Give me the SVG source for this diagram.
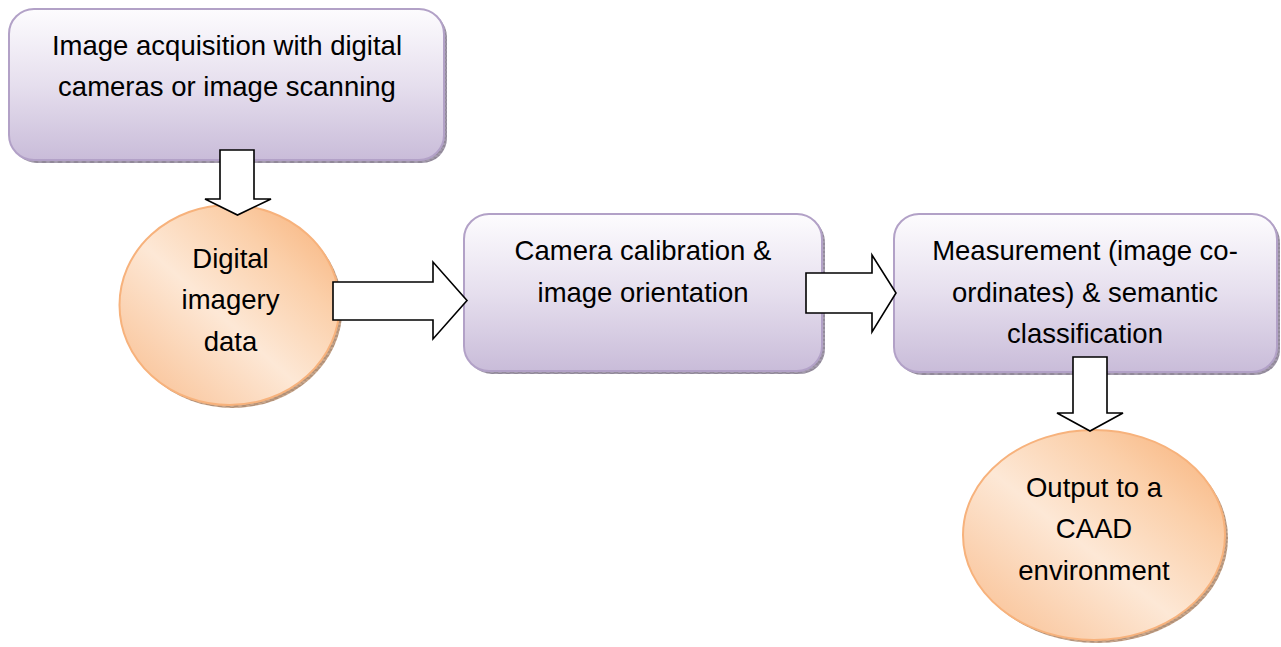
<svg xmlns="http://www.w3.org/2000/svg" width="1281" height="647" viewBox="0 0 1281 647">
<defs>
<linearGradient id="gBox" x1="0" y1="0" x2="0" y2="1">
<stop offset="0" stop-color="#fdfcfe"/>
<stop offset="0.5" stop-color="#e6dfee"/>
<stop offset="1" stop-color="#c9bcd9"/>
</linearGradient>
<linearGradient id="gCirc" x1="0.95" y1="0.05" x2="0.05" y2="0.95">
<stop offset="0" stop-color="#f8b47e"/>
<stop offset="0.25" stop-color="#fbcfa9"/>
<stop offset="0.55" stop-color="#fde8d6"/>
<stop offset="1" stop-color="#f9c093"/>
</linearGradient>
<pattern id="hBox" width="8" height="4" patternUnits="userSpaceOnUse">
<rect width="8" height="4" fill="#a59cae"/>
<path d="M0 0L8 4M8 0L0 4" stroke="#7d7585" stroke-width="0.6"/>
</pattern>
<pattern id="hCirc" width="8" height="4" patternUnits="userSpaceOnUse">
<rect width="8" height="4" fill="#c9a78c"/>
<path d="M0 0L8 4M8 0L0 4" stroke="#9a7b63" stroke-width="0.6"/>
</pattern>
</defs>
<style>
.box{fill:url(#gBox);stroke:#b2a1c7;stroke-width:2}
.bsh{fill:url(#hBox)}
.circ{fill:url(#gCirc);stroke:#f7b27c;stroke-width:2}
.csh{fill:url(#hCirc)}
.arr{fill:#ffffff;stroke:#000000;stroke-width:1.6;stroke-linejoin:miter}
text{font-family:"Liberation Sans",Arial,sans-serif;font-size:27.5px;fill:#000000;text-anchor:middle}
</style>

<g id="node-acquisition">
<rect class="bsh" x="12" y="12" width="435" height="151" rx="25"/>
<rect class="box" x="9" y="9" width="435" height="151" rx="25"/>
<text x="227" y="55">Image acquisition with digital</text>
<text x="227" y="96">cameras or image scanning</text>
</g>

<g id="node-imagery">
<ellipse class="csh" cx="232.5" cy="308" rx="110" ry="100"/>
<ellipse class="circ" cx="229.5" cy="305" rx="110" ry="100"/>
<text x="230.5" y="268">Digital</text>
<text x="230.5" y="309">imagery</text>
<text x="230.5" y="351">data</text>
</g>

<g id="node-calibration">
<rect class="bsh" x="467" y="217" width="358" height="157" rx="25"/>
<rect class="box" x="464" y="214" width="358" height="157" rx="25"/>
<text x="643" y="260">Camera calibration &amp;</text>
<text x="643" y="302">image orientation</text>
</g>

<g id="node-measurement">
<rect class="bsh" x="897" y="217" width="383" height="158" rx="25"/>
<rect class="box" x="894" y="214" width="383" height="158" rx="25"/>
<text x="1085" y="260">Measurement (image co-</text>
<text x="1085" y="302">ordinates) &amp; semantic</text>
<text x="1085" y="343">classification</text>
</g>

<g id="node-output">
<ellipse class="csh" cx="1097" cy="538" rx="131" ry="105"/>
<ellipse class="circ" cx="1094" cy="535" rx="131" ry="105"/>
<text x="1094" y="497">Output to a</text>
<text x="1094" y="538">CAAD</text>
<text x="1094" y="580">environment</text>
</g>

<g id="connectors">
<polygon class="arr" points="220,150 254,150 254,199 271,199 237.5,215 205,199 220,199"/>
<polygon class="arr" points="333,282 433,282 433,262 467,300.5 433,339 433,320 333,320"/>
<polygon class="arr" points="806,273 872,273 872,255 896,293 872,332 872,313 806,313"/>
<polygon class="arr" points="1073,357 1107,357 1107,413 1123,413 1090,431 1057,413 1073,413"/>
</g>
</svg>
